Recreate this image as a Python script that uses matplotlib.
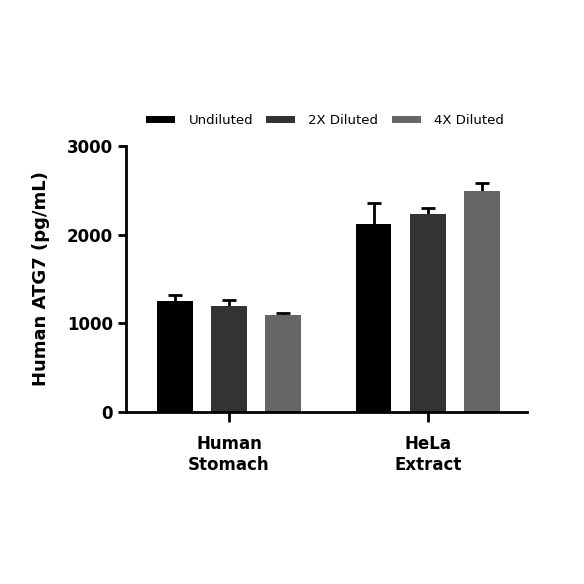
import matplotlib
matplotlib.use("Agg")
import matplotlib.pyplot as plt
import numpy as np
from matplotlib.patches import Patch

categories = ["Human\nStomach", "HeLa\nExtract"]
series = ["Undiluted", "2X Diluted", "4X Diluted"]
values = {
    "Undiluted": [1245, 2117],
    "2X Diluted": [1195, 2232],
    "4X Diluted": [1090, 2497],
}
errors = {
    "Undiluted": [75, 235],
    "2X Diluted": [65, 72],
    "4X Diluted": [30, 80],
}
colors = ["#000000", "#333333", "#666666"]
yticks = [0, 1000, 2000, 3000]

plt.rcParams['font.family'] = ['DejaVu Sans']
fig = plt.figure(figsize=(5.84, 5.84), dpi=100)
ax = fig.add_axes([0.2158, 0.295, 0.686, 0.455])

x = np.arange(len(categories))
offset = 0.273
width = 0.18
for i, s in enumerate(series):
    pos = x + (i - 1) * offset
    ax.errorbar(pos, values[s], yerr=errors[s],
                fmt='none', ecolor='black', elinewidth=2, capsize=5, capthick=2, zorder=1)
    ax.bar(pos, values[s], width=width, color=colors[i], zorder=2)

ax.set_xlim(-0.518, 1.497)
ax.set_ylim(0, 3000)
ax.set_yticks(yticks)
ax.set_yticklabels([str(t) for t in yticks], fontsize=12, fontweight='bold')
ax.set_xticks(x)
ax.set_xticklabels(categories, fontsize=12, fontweight='bold')
for sp in ['top', 'right']:
    ax.spines[sp].set_visible(False)
for sp in ['left', 'bottom']:
    ax.spines[sp].set_linewidth(2)
    ax.spines[sp].set_zorder(3)
ax.tick_params(axis='both', width=2, length=6)
ax.tick_params(axis='x', pad=10, length=7)
ax.set_ylabel("Human ATG7 (pg/mL)", fontsize=13, fontweight='bold', labelpad=12)

handles = [Patch(facecolor=c, edgecolor='none') for c in colors]
fig.legend(handles, series, loc='center', bbox_to_anchor=(0.5565, 0.793), ncol=3,
           frameon=False, fontsize=9.5, handlelength=2.2, handleheight=0.5,
           columnspacing=1.0, handletextpad=1.0)

fig.savefig("out.png", dpi=100)
